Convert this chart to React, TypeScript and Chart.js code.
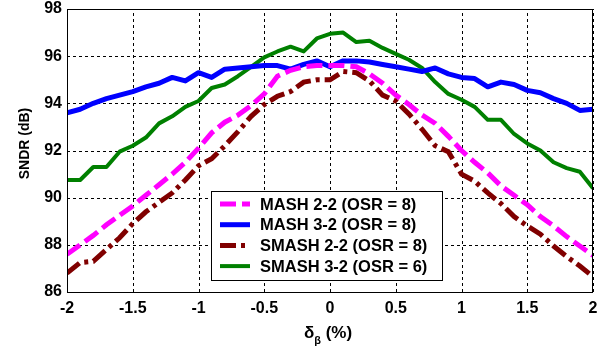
import React, { useEffect, useRef } from "react";
import { Chart, registerables } from "chart.js";

Chart.register(...registerables);

const xValues = [
  -2.0, -1.9, -1.8, -1.7, -1.6, -1.5, -1.4, -1.3, -1.2, -1.1, -1.0, -0.9, -0.8, -0.7, -0.6, -0.5, -0.4, -0.3, -0.2, -0.1,
  0.0, 0.1, 0.2, 0.3, 0.4, 0.5, 0.6, 0.7, 0.8, 0.9, 1.0, 1.1, 1.2, 1.3, 1.4, 1.5, 1.6, 1.7, 1.8, 1.9, 2.0,
];

const mash22 = [
  87.6, 88.0, 88.4, 88.85, 89.25, 89.65, 90.1, 90.55, 91.0, 91.5, 92.1, 92.75, 93.2, 93.5, 93.9, 94.4, 95.15, 95.4, 95.55, 95.6,
  95.6, 95.6, 95.55, 95.25, 94.85, 94.35, 93.95, 93.5, 93.15, 92.6, 92.0, 91.5, 91.05, 90.5, 90.1, 89.7, 89.2, 88.8, 88.35, 87.95, 87.55,
];

const mash32 = [
  93.6, 93.75, 94.0, 94.2, 94.35, 94.5, 94.7, 94.85, 95.1, 94.95, 95.3, 95.1, 95.45, 95.5, 95.55, 95.6, 95.6, 95.45, 95.65, 95.8,
  95.55, 95.8, 95.8, 95.75, 95.65, 95.55, 95.45, 95.35, 95.5, 95.25, 95.1, 95.05, 94.7, 94.9, 94.8, 94.55, 94.45, 94.2, 94.0, 93.7, 93.75,
];

const smash22 = [
  86.8, 87.25, 87.3, 87.8, 88.3, 88.9, 89.4, 89.8, 90.2, 90.75, 91.35, 91.65, 92.2, 92.8, 93.45, 93.95, 94.3, 94.5, 94.9, 95.0,
  95.0, 95.35, 95.3, 94.95, 94.35, 94.1, 93.55, 92.9, 92.2, 91.95, 91.0, 90.7, 90.2, 89.75, 89.2, 88.8, 88.45, 87.95, 87.5, 87.1, 86.65,
];

const smash32 = [
  90.75, 90.75, 91.3, 91.3, 91.95, 92.2, 92.55, 93.15, 93.45, 93.85, 94.1, 94.65, 94.8, 95.15, 95.55, 95.95, 96.2, 96.4, 96.2, 96.75,
  96.95, 97.0, 96.6, 96.65, 96.35, 96.1, 95.85, 95.5, 94.9, 94.4, 94.15, 93.85, 93.3, 93.3, 92.7, 92.3, 92.0, 91.5, 91.25, 91.1, 90.4,
];

const seriesLabels = ["MASH 2-2 (OSR = 8)", "MASH 3-2 (OSR = 8)", "SMASH 2-2 (OSR = 8)", "SMASH 3-2 (OSR = 6)"];
const yTitle = "SNDR (dB)";
const xTitleMain = "δ";
const xTitleSub = "β";
const xTitleUnit = " (%)";

const FONT = "'Liberation Sans', Arial, Helvetica, sans-serif";

const toPoints = (ys: number[]) => xValues.map((x, i) => ({ x, y: ys[i] }));

const gridPlugin = {
  id: "dashGrid",
  beforeDatasetsDraw(chart: any) {
    const { ctx, chartArea, scales } = chart;
    const { left, top, right, bottom } = chartArea;
    ctx.save();
    ctx.strokeStyle = "#000";
    ctx.lineWidth = 1;
    ctx.setLineDash([3, 3]);
    scales.x.ticks.forEach((t: any) => {
      const px = Math.round(scales.x.getPixelForValue(t.value)) + 0.5;
      ctx.beginPath();
      ctx.moveTo(px, bottom);
      ctx.lineTo(px, top);
      ctx.stroke();
    });
    scales.y.ticks.forEach((t: any) => {
      const py = Math.round(scales.y.getPixelForValue(t.value)) + 0.5;
      ctx.beginPath();
      ctx.moveTo(left, py);
      ctx.lineTo(right, py);
      ctx.stroke();
    });
    ctx.restore();
  },
};

const overlayPlugin = {
  id: "overlay",
  afterDraw(chart: any) {
    const { ctx, chartArea } = chart;
    const { left, top, right, bottom } = chartArea;
    ctx.save();
    // frame
    ctx.strokeStyle = "#000";
    ctx.lineWidth = 1;
    ctx.setLineDash([]);
    ctx.strokeRect(Math.round(left) + 0.5, Math.round(top) + 0.5, Math.round(right - left) - 1, Math.round(bottom - top));

    // y title
    ctx.fillStyle = "#000";
    ctx.font = `bold 14px ${FONT}`;
    ctx.textAlign = "center";
    ctx.textBaseline = "middle";
    ctx.save();
    ctx.translate(25, (top + bottom) / 2 - 7);
    ctx.rotate(-Math.PI / 2);
    ctx.fillText(yTitle, 0, 0);
    ctx.restore();

    // x title
    ctx.textAlign = "left";
    ctx.textBaseline = "alphabetic";
    const mainFont = `bold 17px ${FONT}`;
    const subFont = `bold 11px ${FONT}`;
    ctx.font = mainFont;
    const w1 = ctx.measureText(xTitleMain).width;
    const w3 = ctx.measureText(xTitleUnit).width;
    ctx.font = subFont;
    const w2 = ctx.measureText(xTitleSub).width;
    const total = w1 + w2 + w3;
    const cx = (left + right) / 2 - 2;
    const x0 = cx - total / 2;
    const base = 338;
    ctx.font = mainFont;
    ctx.fillText(xTitleMain, x0, base);
    ctx.font = subFont;
    ctx.fillText(xTitleSub, x0 + w1, base + 6);
    ctx.font = mainFont;
    ctx.fillText(xTitleUnit, x0 + w1 + w2, base);

    // legend
    const bx = Math.round(left + 144);
    const by = Math.round(top + 182);
    const bw = 231;
    const bh = 89;
    ctx.fillStyle = "#fff";
    ctx.fillRect(bx, by, bw, bh);
    ctx.strokeStyle = "#000";
    ctx.lineWidth = 1;
    ctx.strokeRect(bx + 0.5, by + 0.5, bw, bh);
    const ds = chart.data.datasets;
    ctx.font = `bold 16.5px ${FONT}`;
    ctx.textBaseline = "middle";
    ds.forEach((d: any, i: number) => {
      const ry = by + 13 + i * 20.7;
      ctx.strokeStyle = d.borderColor;
      ctx.lineWidth = d.borderWidth;
      ctx.lineCap = "butt";
      ctx.setLineDash(d.borderDash || []);
      ctx.beginPath();
      ctx.moveTo(bx + 9, ry);
      ctx.lineTo(bx + 39, ry);
      ctx.stroke();
      ctx.setLineDash([]);
      ctx.fillStyle = "#000";
      ctx.fillText(d.label, bx + 49, ry + 1);
    });
    ctx.restore();
  },
};

export default function App() {
  const ref = useRef<HTMLCanvasElement | null>(null);

  useEffect(() => {
    document.body.style.margin = "0";
    const canvas = ref.current;
    if (!canvas) return;
    const chart = new Chart(canvas, {
      type: "line",
      data: {
        datasets: [
          {
            label: seriesLabels[0],
            data: toPoints(mash22),
            borderColor: "#ff00ff",
            borderWidth: 5,
            borderDash: [16, 6],
            borderCapStyle: "butt",
            pointRadius: 0,
            tension: 0,
          },
          {
            label: seriesLabels[1],
            data: toPoints(mash32),
            borderColor: "#0000ff",
            borderWidth: 5,
            borderJoinStyle: "round",
            pointRadius: 0,
            tension: 0,
          },
          {
            label: seriesLabels[2],
            data: toPoints(smash22),
            borderColor: "#800000",
            borderWidth: 5,
            borderDash: [16, 5, 4, 5],
            borderCapStyle: "butt",
            pointRadius: 0,
            tension: 0,
          },
          {
            label: seriesLabels[3],
            data: toPoints(smash32),
            borderColor: "#008000",
            borderWidth: 4,
            borderJoinStyle: "round",
            pointRadius: 0,
            tension: 0,
          },
        ],
      },
      options: {
        animation: false,
        responsive: false,
        maintainAspectRatio: false,
        layout: { padding: { top: 9, right: 7, left: 0, bottom: 0 } },
        plugins: {
          legend: { display: false },
          tooltip: { enabled: false },
        },
        scales: {
          x: {
            type: "linear",
            min: -2,
            max: 2,
            afterFit: (s: any) => {
              s.height = 54;
              s.paddingLeft = 0;
              s.paddingRight = 0;
            },
            ticks: {
              stepSize: 0.5,
              color: "#000",
              font: { family: FONT, size: 16, weight: "bold" },
              padding: 7,
              maxRotation: 0,
              callback: (v: any) => String(Number(v)),
            },
            grid: { display: false, drawTicks: false },
            border: { display: false },
          },
          y: {
            type: "linear",
            min: 86,
            max: 98,
            afterFit: (s: any) => {
              s.width = 67;
              s.paddingTop = 0;
              s.paddingBottom = 0;
            },
            ticks: {
              stepSize: 2,
              color: "#000",
              font: { family: FONT, size: 16, weight: "bold" },
              padding: 5,
              callback: (v: any) => String(Number(v)),
            },
            grid: { display: false, drawTicks: false },
            border: { display: false },
          },
        },
      },
      plugins: [gridPlugin, overlayPlugin],
    } as any);
    return () => chart.destroy();
  }, []);

  return (
    <div style={{ position: "absolute", left: 0, top: 0, width: 600, height: 346, background: "#fff" }}>
      <canvas ref={ref} width={600} height={346} style={{ width: 600, height: 346 }} />
    </div>
  );
}
